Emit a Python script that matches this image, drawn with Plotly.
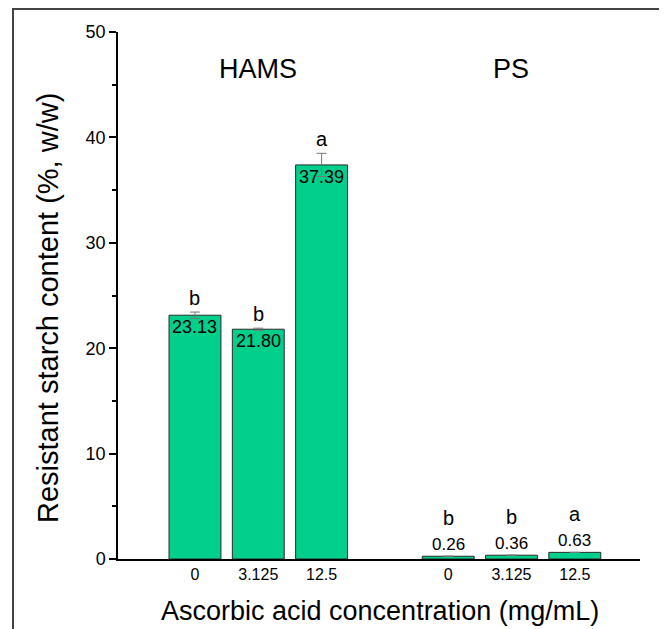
import plotly.graph_objects as go

groups = ["HAMS", "HAMS", "HAMS", "PS", "PS", "PS"]
concentrations = ["0", "3.125", "12.5", "0", "3.125", "12.5"]
positions = [0, 1, 2, 4, 5, 6]
values = [23.13, 21.80, 37.39, 0.26, 0.36, 0.63]
errors = [0.3, 0.1, 1.1, 0.0, 0.0, 0.0]
letters = ["b", "b", "a", "b", "b", "a"]
group_labels = ["HAMS", "PS"]
group_centers = [1, 5]

FONT = "Arial, Liberation Sans, sans-serif"
GREEN = "#02CF8C"

W, H = 659, 621
L, T = 110, 24
PW, PH = 522, 527


def px(xs):
    return (xs - 8 - L) / PW


def py(ys):
    return (T + PH - (ys - 8)) / PH


fig = go.Figure()
fig.add_trace(go.Bar(
    x=positions, y=values, width=0.82,
    marker=dict(color=GREEN, line=dict(color="#2a2a2a", width=1)),
    error_y=dict(type="data", array=errors, visible=True, color="#777777", thickness=1, width=5),
    showlegend=False, hoverinfo="skip",
))

ann = []
for p, v, e, l in zip(positions, values, errors, letters):
    if v > 5:
        ann.append(dict(x=p, y=v, text=f"{v:.2f}", showarrow=False, yanchor="top", yshift=0,
                        font=dict(family=FONT, size=18, color="black")))
        ann.append(dict(x=p, y=v + e, text=l, showarrow=False, yanchor="bottom", yshift=1,
                        font=dict(family=FONT, size=20, color="black")))
    else:
        ann.append(dict(x=p, y=v, text=f"{v:.2f}", showarrow=False, yanchor="bottom", yshift=0,
                        font=dict(family=FONT, size=17, color="black")))
        ann.append(dict(x=p, y=v, text=l, showarrow=False, yanchor="bottom", yshift=25,
                        font=dict(family=FONT, size=20, color="black")))
for g, c in zip(group_labels, group_centers):
    ann.append(dict(x=c, y=py(69), yref="paper", text=g, showarrow=False, yanchor="middle",
                    font=dict(family=FONT, size=27, color="black")))
ann.append(dict(xref="paper", yref="paper", x=px(48), y=py(308), text="Resistant starch content (%, w/w)",
                textangle=-90, showarrow=False, xanchor="center", yanchor="middle",
                font=dict(family=FONT, size=29, color="black")))
ann.append(dict(xref="paper", yref="paper", x=px(380), y=py(611),
                text="Ascorbic acid concentration (mg/mL)", showarrow=False,
                xanchor="center", yanchor="middle",
                font=dict(family=FONT, size=27, color="black")))

shapes = [
    dict(type="line", xref="paper", yref="paper", x0=px(13), x1=px(13),
         y0=py(8), y1=py(700), line=dict(color="#444444", width=2)),
    dict(type="line", xref="paper", yref="paper", x0=px(13), x1=px(700),
         y0=py(9), y1=py(9), line=dict(color="#444444", width=2)),
]

fig.update_layout(
    width=W, height=H,
    margin=dict(l=L, r=W - L - PW, t=T, b=H - T - PH),
    paper_bgcolor="white", plot_bgcolor="white",
    font=dict(family=FONT, color="black"),
    annotations=ann, shapes=shapes,
    xaxis=dict(range=[-1.216, 7.03], tickvals=positions, ticktext=concentrations,
               showline=True, linecolor="black", linewidth=1.5, ticks="", showgrid=False,
               zeroline=False, tickfont=dict(size=16, family=FONT)),
    yaxis=dict(range=[0, 50], tickvals=[0, 10, 20, 30, 40, 50], showline=True, linecolor="black",
               linewidth=1.5, ticks="outside", ticklen=7, tickwidth=1.5, tickcolor="black",
               showgrid=False, zeroline=False, tickfont=dict(size=18, family=FONT),
               minor=dict(tickvals=[5, 15, 25, 35, 45], ticks="outside", ticklen=4, tickcolor="black", tickwidth=1.5)),
)
fig.write_html("out.html")
